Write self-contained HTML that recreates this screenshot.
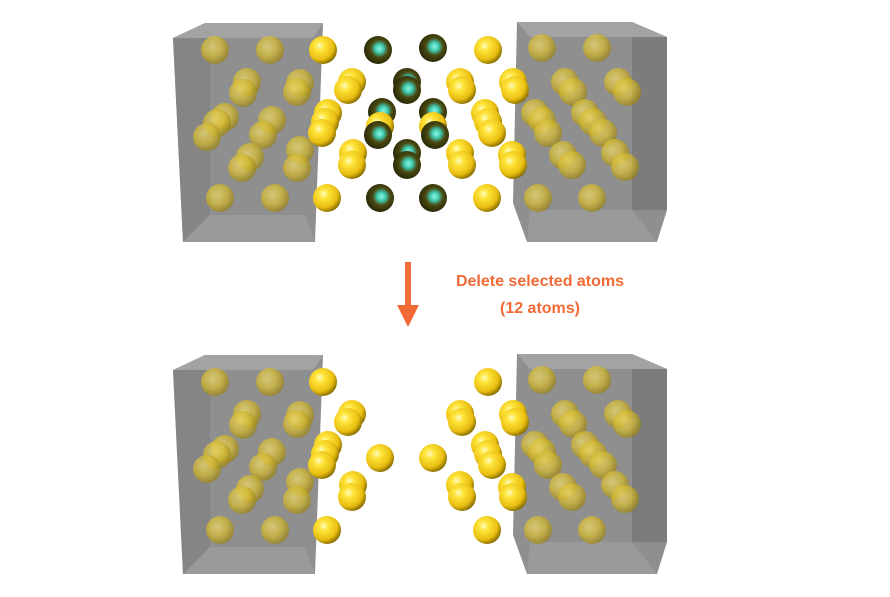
<!DOCTYPE html>
<html><head><meta charset="utf-8"><style>
html,body{margin:0;padding:0;background:#fff;width:890px;height:597px;overflow:hidden}
svg{display:block}
</style></head><body>
<svg id="scene" width="890" height="597" viewBox="0 0 890 597" xmlns="http://www.w3.org/2000/svg">
<defs>
<radialGradient id="gy" cx="0.38" cy="0.35" r="0.7">
<stop offset="0" stop-color="#fffbc0"/><stop offset="0.25" stop-color="#ffe43a"/><stop offset="0.7" stop-color="#e8be10"/><stop offset="1" stop-color="#7a6200"/>
</radialGradient>
<radialGradient id="gd" cx="0.55" cy="0.45" r="0.7">
<stop offset="0" stop-color="#8ff5e0"/><stop offset="0.22" stop-color="#3fc9b0"/><stop offset="0.45" stop-color="#4a4a12"/><stop offset="1" stop-color="#141400"/>
</radialGradient>
<radialGradient id="gb" cx="0.4" cy="0.38" r="0.7">
<stop offset="0" stop-color="#f0dc70"/><stop offset="0.5" stop-color="#d6bc30"/><stop offset="1" stop-color="#8a7410"/>
</radialGradient>
</defs>
<g id="panels"></g>
<g>
<rect x="405" y="262" width="6" height="46" fill="#f26a35"/>
<polygon points="397,305 419,305 408,327" fill="#f26a35"/>
</g>
<text x="540" y="286" text-anchor="middle" font-family="Liberation Sans, sans-serif" font-weight="bold" font-size="16" fill="#f26a35">Delete selected atoms</text>
<text x="540" y="313" text-anchor="middle" font-family="Liberation Sans, sans-serif" font-weight="bold" font-size="16" fill="#f26a35">(12 atoms)</text>
</svg>
<script>
// in-box (electrode) atoms [x,y]
const leftBoxAtoms=[[215,50],[270,50],[247,82],[243,93],[300,83],[297,92],[225,117],[217,123],[207,137],[272,120],[263,135],[250,157],[242,168],[300,150],[297,168],[220,198],[275,198]];
const rightBoxAtoms=[[542,48],[597,48],[565,82],[573,92],[618,82],[627,92],[535,113],[542,120],[548,133],[585,113],[593,122],[603,133],[563,155],[572,165],[615,153],[625,167],[538,198],[592,198]];
// gap atoms [x,y,selected(1=deleted)]
const gapAtoms=[[323,50,0],[378,50,1],[433,48,1],[488,50,0],
[352,82,0],[348,90,0],[407,82,1],[407,90,1],[460,82,0],[462,90,0],[513,82,0],[515,90,0],
[328,113,0],[325,122,0],[322,133,0],[382,112,1],[380,126,0],[378,135,1],[433,112,1],[433,126,0],[435,135,1],[485,113,0],[488,122,0],[492,133,0],
[353,153,0],[352,165,0],[407,153,1],[407,165,1],[460,153,0],[462,165,0],[512,155,0],[513,165,0],
[327,198,0],[380,198,1],[433,198,1],[487,198,0]];
const panelOffsets=[0,332];
const R=14;
const NS='http://www.w3.org/2000/svg';
const root=document.getElementById('panels');
function mk(tag,attrs,parent){const e=document.createElementNS(NS,tag);for(const k in attrs)e.setAttribute(k,attrs[k]);parent.appendChild(e);return e;}
panelOffsets.forEach((dy,pi)=>{
  const g=mk('g',{transform:'translate(0,'+dy+')'},root);
  
  
  const lb=mk('g',{},g);
  
  
  mk('polygon',{points:'173,38 205,23 323,23 316,215 315,242 183,242',fill:'#8f8f8f'},lb);
  mk('polygon',{points:'173,38 205,23 323,23 313,38',fill:'#a3a3a3'},lb);
  mk('polygon',{points:'173,38 210,38 210,215 183,242',fill:'#858585'},lb);
  mk('polygon',{points:'183,242 210,215 305,215 315,242',fill:'#9a9a9a'},lb);
  const rb=mk('g',{},g);
  
  
  mk('polygon',{points:'517,22 632,22 667,37 667,210 657,242 527,242 513,203',fill:'#8f8f8f'},rb);
  mk('polygon',{points:'517,22 632,22 667,37 530,37',fill:'#a3a3a3'},rb);
  mk('polygon',{points:'632,37 667,37 667,210 632,210',fill:'#7c7c7c'},rb);
  mk('polygon',{points:'527,242 530,210 632,210 657,242',fill:'#9a9a9a'},rb);
  [leftBoxAtoms,rightBoxAtoms].forEach((arr,si)=>{
    arr.forEach(a=>{
      const c=mk('circle',{cx:a[0],cy:a[1],r:R,fill:'url(#gb)',opacity:0.72},g);
      
      
    });
  });
  gapAtoms.forEach(a=>{
    if(pi===1&&a[2])return;
    const c=mk('circle',{cx:a[0],cy:a[1],r:R,fill:a[2]?'url(#gd)':'url(#gy)'},g);
    
    
  });
});
</script>
</body></html>
